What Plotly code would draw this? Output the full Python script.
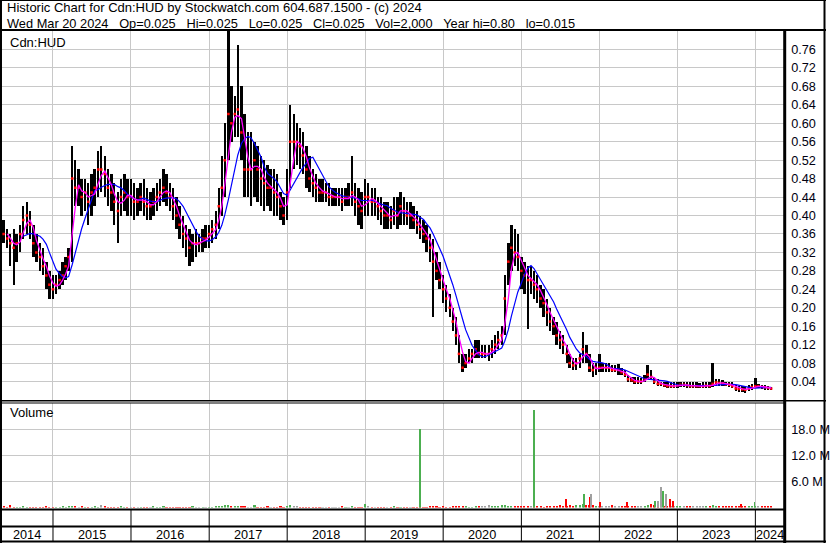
import pandas as pd
import plotly.graph_objects as go

W, H = 830, 543

# ---------------- data (semi-monthly bars) ----------------
DATES = pd.date_range("2014-05-01", "2024-03-16", freq="SMS")

HIGH = (
    [.39, .39, .37, .36, .37, .36, .38, .42, .43, .41, .38, .36, .34, .33, .30, .28]
    + [.27, .27, .28, .30, .31, .33, .55, .52, .50, .48, .48, .47, .49, .50, .54, .55, .53, .50, .49, .47, .45, .48, .49, .48]
    + [.48, .47, .46, .47, .48, .46, .45, .46, .47, .48, .50, .49, .47, .46, .44, .42, .40, .38, .37, .36, .37, .36, .37, .38]
    + [.38, .39, .41, .46, .53, .60, .80, .68, .66, .77, .68, .62, .58, .58, .56, .55, .53, .52, .51, .50, .50, .49, .45, .44]
    + [.50, .64, .62, .60, .59, .58, .55, .53, .50, .49, .48, .48, .47, .47, .46, .46, .46, .46, .46, .47, .53, .47, .46, .45]
    + [.48, .47, .46, .46, .44, .44, .43, .43, .42, .44, .44, .45, .44, .43, .43, .42, .41, .40, .39, .38, .36, .35, .32, .30]
    + [.27, .25, .23, .20, .18, .14, .10, .10, .11, .11, .13, .13, .12, .12, .12, .13, .14, .15, .16, .27, .34, .38, .37, .36]
    + [.31, .30, .29, .29, .28, .27, .25, .24, .22, .20, .18, .17, .15, .14, .12, .10, .09, .09, .10, .148, .12, .10, .08, .08]
    + [.10, .08, .08, .08, .075, .075, .078, .07, .065, .055, .05, .05, .05, .048, .055, .075, .065, .05, .045, .04, .04, .04, .04, .038]
    + [.04, .04, .04, .04, .038, .038, .038, .037, .038, .038, .038, .08, .045, .045, .044, .04, .04, .038, .032, .03, .03, .03, .032, .035]
    + [.047, .035, .033, .032, .03, .028]
)
LOW = (
    [.35, .34, .33, .29, .25, .30, .32, .35, .36, .35, .31, .30, .28, .27, .24, .22]
    + [.22, .23, .24, .25, .26, .28, .30, .42, .42, .40, .41, .38, .40, .42, .44, .45, .44, .42, .41, .38, .34, .40, .41, .40]
    + [.40, .39, .40, .41, .40, .39, .39, .40, .41, .42, .43, .42, .41, .39, .37, .35, .33, .31, .29, .30, .31, .32, .32, .33]
    + [.33, .34, .35, .37, .40, .44, .52, .56, .57, .57, .52, .44, .44, .42, .44, .43, .42, .41, .42, .41, .40, .40, .39, .38]
    + [.39, .46, .50, .51, .50, .49, .46, .45, .44, .43, .43, .43, .43, .42, .42, .42, .42, .41, .42, .42, .42, .40, .38, .37]
    + [.40, .40, .40, .40, .39, .38, .37, .37, .37, .38, .37, .38, .38, .38, .37, .37, .36, .35, .34, .32, .30, .18, .26, .24]
    + [.21, .19, .18, .15, .12, .08, .06, .07, .08, .08, .09, .09, .09, .09, .085, .09, .10, .11, .12, .14, .25, .28, .29, .28]
    + [.24, .23, .155, .23, .22, .21, .20, .18, .16, .15, .14, .12, .11, .10, .08, .07, .065, .065, .07, .08, .08, .06, .05, .055]
    + [.06, .06, .06, .06, .06, .06, .055, .055, .05, .04, .038, .035, .035, .035, .04, .045, .045, .035, .03, .03, .028, .026, .026, .026]
    + [.027, .028, .028, .027, .026, .026, .027, .026, .026, .027, .027, .028, .03, .03, .03, .03, .028, .025, .02, .018, .018, .015, .02, .022]
    + [.025, .025, .024, .022, .022, .022]
)
CLOSE = (
    [.37, .36, .35, .34, .33, .34, .36, .39, .40, .38, .34, .32, .31, .29, .27, .25]
    + [.24, .25, .26, .27, .29, .31, .48, .46, .46, .44, .45, .43, .45, .46, .50, .50, .49, .46, .45, .43, .41, .44, .45, .44]
    + [.44, .43, .43, .44, .43, .42, .42, .43, .44, .45, .46, .45, .44, .42, .40, .38, .36, .35, .33, .34, .34, .34, .35, .35]
    + [.36, .37, .38, .42, .46, .52, .62, .60, .62, .63, .58, .50, .50, .50, .52, .50, .48, .47, .46, .46, .45, .44, .42, .40]
    + [.45, .56, .56, .56, .55, .53, .50, .48, .47, .46, .45, .45, .45, .44, .44, .44, .44, .43, .44, .44, .45, .43, .42, .41]
    + [.44, .44, .43, .43, .42, .41, .40, .40, .39, .41, .40, .42, .41, .40, .40, .39, .38, .37, .36, .35, .33, .30, .28, .26]
    + [.24, .22, .20, .17, .14, .10, .07, .08, .09, .10, .11, .10, .10, .10, .10, .11, .12, .13, .14, .22, .30, .33, .32, .31]
    + [.28, .27, .26, .26, .25, .24, .22, .21, .19, .17, .16, .14, .13, .12, .10, .08, .075, .08, .09, .11, .10, .07, .065, .07]
    + [.07, .07, .07, .07, .065, .065, .065, .06, .055, .045, .043, .04, .04, .04, .045, .055, .05, .04, .035, .035, .032, .03, .03, .03]
    + [.032, .033, .033, .032, .03, .03, .03, .03, .03, .031, .03, .035, .038, .037, .036, .034, .033, .03, .025, .024, .023, .022, .025, .028]
    + [.03, .03, .028, .027, .026, .025]
)
# typical daily volume per half-month (millions of shares)
VOL_M = (
    [.2, .25, .15, .6, .2, .15, .2, .25, .2, .15, .2, .2, .15, .2, .25, .2]
    + [.2, .15, .2, .25, .2, .3, .35, .25, .2, .3, .2, .15, .2, .25, .2, .6, .3, .2, .2, .15, .2, .25, .2, .2]
    + [.2, .15, .2, .2, .15, .2, .2, .25, .2, .2, .3, .2, .2, .15, .2, .2, .2, .15, .2, .3, .2, .15, .2, .2]
    + [.2, .2, .25, .3, .4, .5, .6, .4, .3, .3, .25, .3, .2, .2, .6, .2, .2, .2, .3, .2, .2, .2, .25, .2]
    + [.3, .5, .3, .25, .2, .2, .2, .2, .2, .2, .15, .2, .2, .2, .15, .2, .2, .3, .2, .2, .25, .2, .2, .2]
    + [.75, .3, .2, .2, .15, .2, .2, .2, .2, .25, .2, .2, .2, .15, .2, .2, .2, .3, .2, .2, .3, .4, .3, .2]
    + [.25, .2, .2, .3, .4, .3, .3, .25, .2, .2, .3, .4, .3, .3, .5, .3, .4, .3, .6, .5, .4, .4, .3, .3]
    + [.3, .4, .3, .3, .3, .25, .3, .2, .3, .3, .3, .4, .5, .4, .4, .5, .4, .5, .6, .8, .6, .5, .5, .4]
    + [.4, .3, .3, .3, .5, .3, .3, .3, .3, .3, .3, .4, .4, .3, .4, .6, .8, .6, .5, .4, .3, .3, .3, .3]
    + [.3, .3, .3, .3, .3, .3, .3, .3, .4, .3, .3, .5, .4, .3, .3, .3, .3, .3, .4, .3, .3, .3, .3, .4]
    + [.4, .3, .4, .3, .3, .3]
)
# single heavy-volume sessions (millions) and their direction
SPIKE_DATES = ["2019-09-16", "2021-02-28", "2021-07-27", "2021-10-19", "2021-11-18", "2021-11-24",
               "2022-01-06", "2022-05-12", "2022-09-19", "2022-10-03", "2022-10-16", "2022-10-26",
               "2022-11-09", "2022-11-27", "2022-12-11", "2023-10-24", "2023-12-28"]
SPIKE_VOL_M = [18.0, 22.4, 1.85, 3.0, 2.5, 3.0, 1.2, 1.2, 1.6, 1.6, 4.8, 3.7, 3.0, 2.0, 1.4, 0.7, 1.2]
SPIKE_DIR = ["up", "up", "down", "up", "down", "flat", "down", "down", "up", "flat", "flat", "up",
             "flat", "down", "down", "down", "up"]

PRICE_TICKS = [0.04, 0.08, 0.12, 0.16, 0.20, 0.24, 0.28, 0.32, 0.36, 0.40, 0.44, 0.48,
               0.52, 0.56, 0.60, 0.64, 0.68, 0.72, 0.76]
VOL_TICKS = [6, 12, 18]
VOL_TICK_TEXT = ["6.0 M", "12.0 M", "18.0 M"]
YEARS = list(range(2014, 2025))

GAP = "\u00a0\u00a0\u00a0"
TITLE1 = "Historic Chart for Cdn:HUD by Stockwatch.com 604.687.1500 - (c) 2024"
TITLE2 = GAP.join(["Wed Mar 20 2024", "Op=0.025", "Hi=0.025", "Lo=0.025", "Cl=0.025",
                   "Vol=2,000", "Year hi=0.80", "lo=0.015"])

X_START, X_END = "2014-04-28", "2024-05-15"
FAST_N, SLOW_N = 3, 8  # moving-average windows in half-month bars

# ---------------- styling ----------------
FONT = "Arial, 'Liberation Sans', sans-serif"
GRID = "#c8c8c8"
GREEN, RED, GRAY = "#4caf50", "#ff0000", "#a0a0a0"
DIR_COLOR = {"up": GREEN, "down": RED, "flat": GRAY}


def py(y):
    return 1 - y / H


def px(x):
    return x / W


close_s = pd.Series(CLOSE, index=DATES)
ma_fast = close_s.rolling(FAST_N).mean()
ma_slow = close_s.rolling(SLOW_N).mean()
chg = close_s.diff().fillna(0)
vol_colors = [GREEN if c > 0 else (RED if c < 0 else GRAY) for c in chg]

DAY_MS = 86400000

fig = go.Figure()
fig.add_trace(go.Bar(x=DATES, y=[h - l for h, l in zip(HIGH, LOW)], base=LOW,
                     marker=dict(color="black", line=dict(width=0)), width=11 * DAY_MS,
                     xaxis="x", yaxis="y", hoverinfo="skip"))
fig.add_trace(go.Scatter(x=DATES, y=CLOSE, mode="markers",
                         marker=dict(symbol="square", size=2.5, color=RED, line=dict(width=0)),
                         xaxis="x", yaxis="y", hoverinfo="skip"))
fig.add_trace(go.Scatter(x=DATES, y=ma_slow, mode="lines", line=dict(color="#0000ff", width=1.2),
                         xaxis="x", yaxis="y", hoverinfo="skip"))
fig.add_trace(go.Scatter(x=DATES, y=ma_fast, mode="lines", line=dict(color="#ff00ff", width=1.3),
                         xaxis="x", yaxis="y", hoverinfo="skip"))
fig.add_trace(go.Bar(x=DATES, y=VOL_M, marker=dict(color=vol_colors, line=dict(width=0)),
                     width=10 * DAY_MS, xaxis="x2", yaxis="y2", hoverinfo="skip"))
fig.add_trace(go.Bar(x=pd.to_datetime(SPIKE_DATES), y=SPIKE_VOL_M,
                     marker=dict(color=[DIR_COLOR[d] for d in SPIKE_DIR], line=dict(width=0)),
                     width=9 * DAY_MS, xaxis="x2", yaxis="y2", hoverinfo="skip"))

xcommon = dict(type="date", range=[X_START, X_END], showgrid=True, gridcolor=GRID, gridwidth=1,
               tick0="2015-01-01", dtick="M12", showticklabels=False, ticks="", zeroline=False,
               showline=False, domain=[0, px(788)], fixedrange=True)

fig.update_layout(
    width=W, height=H, margin=dict(l=0, r=0, t=0, b=0),
    paper_bgcolor="white", plot_bgcolor="white", showlegend=False, barmode="overlay",
    bargap=0,
    font=dict(family=FONT, size=12, color="black"),
    xaxis=dict(**xcommon, anchor="y"),
    xaxis2=dict(**xcommon, anchor="y2", matches="x"),
    yaxis=dict(domain=[py(400), py(31)], range=[0, 0.8], side="right", anchor="x",
               tickvals=PRICE_TICKS, ticktext=[f"{v:.2f}" for v in PRICE_TICKS],
               showgrid=True, gridcolor=GRID, gridwidth=1, zeroline=False, showline=False,
               ticks="", ticklabelstandoff=6, tickfont=dict(size=12.7, family=FONT, color="#000010"),
               fixedrange=True),
    yaxis2=dict(domain=[py(507.5), py(403)], range=[0, 24], side="right", anchor="x2",
                tickvals=VOL_TICKS, ticktext=VOL_TICK_TEXT,
                showgrid=True, gridcolor=GRID, gridwidth=1, zeroline=False, showline=False,
                ticks="", ticklabelstandoff=6, tickfont=dict(size=12.7, family=FONT, color="#000010"),
                fixedrange=True),
)

shapes = []


def hline(y, x0, x1, w):
    shapes.append(dict(type="line", xref="paper", yref="paper", x0=px(x0), x1=px(x1),
                       y0=py(y), y1=py(y), line=dict(color="black", width=w)))


def vline(x, y0, y1, w):
    shapes.append(dict(type="line", xref="paper", yref="paper", x0=px(x), x1=px(x),
                       y0=py(y0), y1=py(y1), line=dict(color="black", width=w)))


# outer frame
vline(1, 0, H, 2)
vline(828.5, 0, H, 2)
hline(0.5, 0, W, 1)
hline(541.5, 0, W, 2)
# title separator and panel frames
hline(30, 0, W, 2)
vline(788.5, 30, H, 3)
hline(400.7, 0, W, 1.6)
hline(403, 0, 788, 1)
hline(509.5, 0, 788, 2)
hline(526.5, 0, 788, 2)
# year separators in the bottom strips
for y in YEARS[1:]:
    shapes.append(dict(type="line", xref="x", yref="paper", x0=f"{y}-01-01", x1=f"{y}-01-01",
                       y0=py(541), y1=py(509), line=dict(color="black", width=1)))
fig.update_layout(shapes=shapes)

ann = [
    dict(text=TITLE1, x=px(5), y=py(7.6), size=13),
    dict(text=TITLE2, x=px(5), y=py(23.2), size=12.8),
    dict(text="Cdn:HUD", x=px(8), y=py(42), size=13),
    dict(text="Volume", x=px(8), y=py(413), size=13),
]
annotations = [dict(text=a["text"], x=a["x"], y=a["y"], xref="paper", yref="paper",
                    xanchor="left", yanchor="middle", showarrow=False,
                    font=dict(family=FONT, size=a["size"], color="black")) for a in ann]

start, end = pd.Timestamp(X_START), pd.Timestamp(X_END)
for y in YEARS:
    s = max(pd.Timestamp(f"{y}-01-01"), start)
    e = min(pd.Timestamp(f"{y + 1}-01-01"), end)
    mid = s + (e - s) / 2
    annotations.append(dict(text=str(y), x=mid, y=py(535), xref="x", yref="paper",
                            xanchor="center", yanchor="middle", showarrow=False,
                            font=dict(family=FONT, size=12.7, color="black")))
fig.update_layout(annotations=annotations)

fig.write_html("out.html", config={"displayModeBar": False, "staticPlot": True},
               post_script="document.body.style.margin='0';document.body.style.padding='0';")
